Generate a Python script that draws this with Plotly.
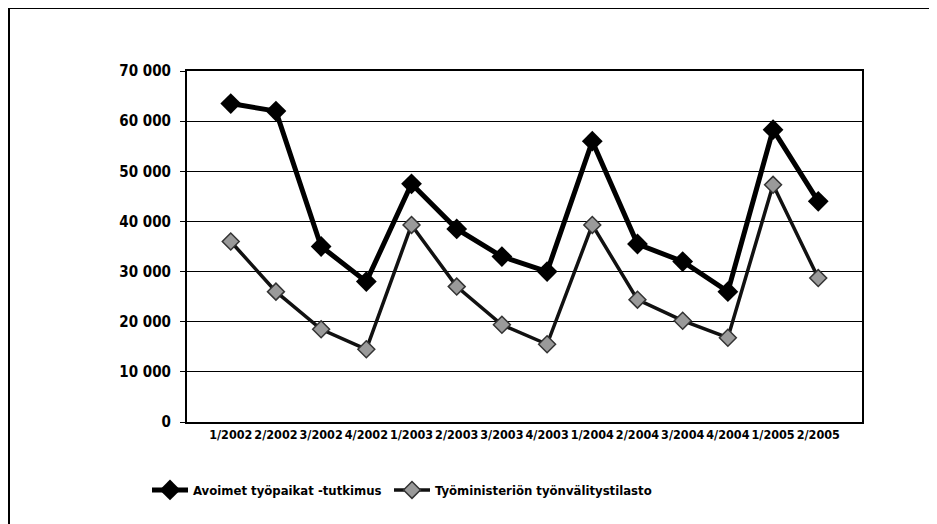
import plotly.graph_objects as go

categories = ["1/2002", "2/2002", "3/2002", "4/2002", "1/2003", "2/2003", "3/2003",
              "4/2003", "1/2004", "2/2004", "3/2004", "4/2004", "1/2005", "2/2005"]
avoimet = [63500, 62000, 35000, 28000, 47500, 38500, 33000, 30000, 56000, 35500, 32000, 26000, 58300, 44000]
tyoministerio = [36000, 26000, 18500, 14500, 39300, 27000, 19400, 15500, 39300, 24400, 20200, 16800, 47300, 28700]
series_names = ["Avoimet työpaikat -tutkimus", "Työministeriön työnvälitystilasto"]
y_ticks = [0, 10000, 20000, 30000, 40000, 50000, 60000, 70000]
y_ticktext = ["0", "10 000", "20 000", "30 000", "40 000", "50 000", "60 000", "70 000"]

FONT = "DejaVu Sans Condensed, Liberation Sans Narrow, sans-serif"

fig = go.Figure()
fig.add_trace(go.Scatter(
    x=categories, y=avoimet, name=series_names[0], mode="lines+markers",
    line=dict(color="#000000", width=5),
    marker=dict(symbol="diamond", size=16, color="#000000", line=dict(color="#000000", width=0)),
    legend="legend",
))
fig.add_trace(go.Scatter(
    x=categories, y=tyoministerio, name=series_names[1], mode="lines+markers",
    line=dict(color="#111111", width=3.5),
    marker=dict(symbol="diamond", size=13, color="#9a9a9a", line=dict(color="#333333", width=1.5)),
    legend="legend2",
))

legend_common = dict(
    orientation="h", xref="container", yref="container",
    y=1 - 482 / 524, xanchor="left", yanchor="middle",
    font=dict(family=FONT, size=13, color="#000000", weight="bold"),
    itemwidth=36, bgcolor="rgba(0,0,0,0)",
)

fig.update_layout(
    width=937, height=524,
    margin=dict(l=179, r=83, t=63, b=110),
    paper_bgcolor="white", plot_bgcolor="white",
    font=dict(family=FONT, size=13, color="#000000", weight="bold"),
    showlegend=True,
    legend=dict(legend_common, x=139 / 937),
    legend2=dict(legend_common, x=381 / 937),
    xaxis=dict(
        type="category", showgrid=False, showline=True, linecolor="#000000", linewidth=2,
        mirror=True, ticks="", tickfont=dict(size=12.5), tickangle=0, fixedrange=True,
    ),
    yaxis=dict(
        range=[0, 70000], tickvals=y_ticks, ticktext=y_ticktext,
        showgrid=True, gridcolor="#000000", gridwidth=1,
        showline=True, linecolor="#000000", linewidth=2, mirror=True,
        ticks="outside", ticklen=5, tickcolor="#000000", tickwidth=1,
        tickfont=dict(size=15), ticklabelstandoff=6, zeroline=False,
    ),
    shapes=[
        dict(type="line", xref="paper", yref="paper", x0=(9 - 187) / 675, x1=(945 - 187) / 675,
             y0=(422 - 8) / 351, y1=(422 - 8) / 351, line=dict(color="#000000", width=2)),
        dict(type="line", xref="paper", yref="paper", x0=(9 - 187) / 675, x1=(9 - 187) / 675,
             y0=(422 - 8) / 351, y1=(422 - 540) / 351, line=dict(color="#000000", width=2)),
    ],
)

fig.write_html("out.html")
